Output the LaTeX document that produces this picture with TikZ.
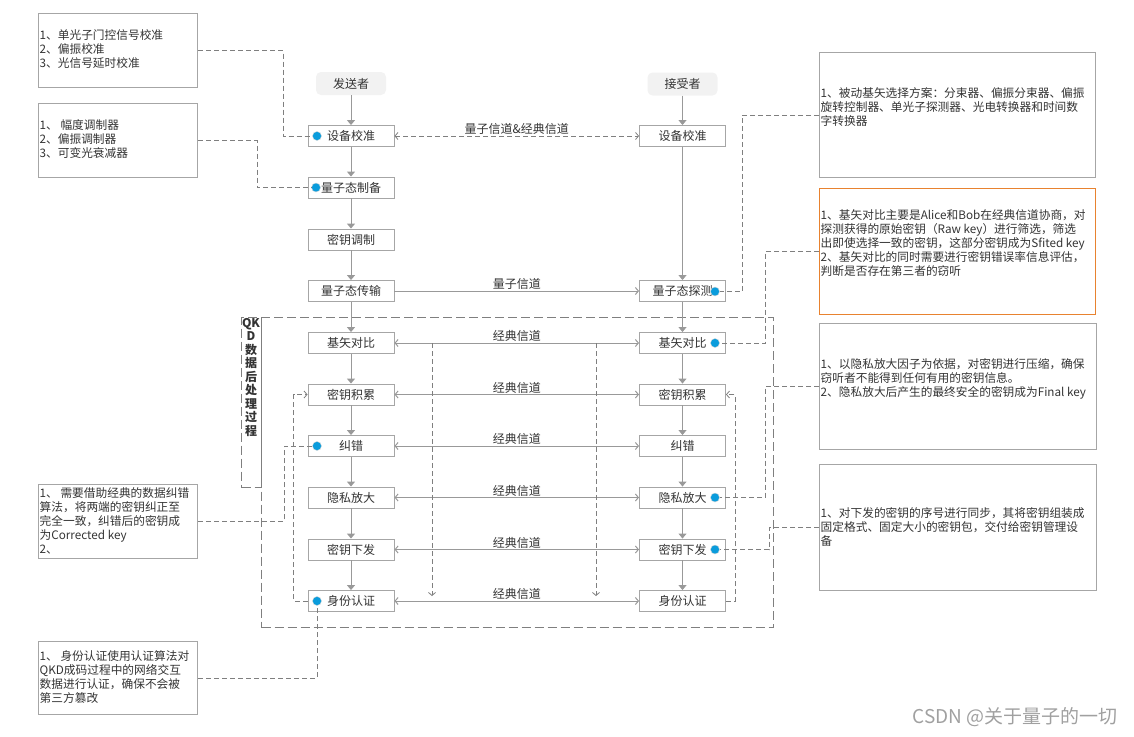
\documentclass[tikz,border=0pt]{standalone}
\usepackage{fontspec}
\setmainfont{Noto Sans CJK SC}
\usepackage{tikz}
\usetikzlibrary{
  arrows.meta,%
  calc,%
  positioning
}
\definecolor{framegray}{HTML}{A6A6A6}
\definecolor{linkgray}{HTML}{999999}
\definecolor{dashgray}{HTML}{7F7F7F}
\definecolor{inkgray}{HTML}{333333}
\definecolor{notehot}{HTML}{E8822F}
\definecolor{dotblue}{HTML}{0A9CDC}
\definecolor{rolefill}{HTML}{F2F2F2}
\definecolor{markgray}{HTML}{A0A0A0}
\tikzset{>={Triangle[width=8pt,length=5pt]}}
\tikzset{chev/.tip={Straight Barb[length=3pt,width=7pt]}}
\tikzset{font=\fontsize{12}{14}\selectfont, text=inkgray}
\tikzset{procbox/.style={draw=framegray, fill=white, line width=0.9pt,
    minimum width=86, minimum height=21, inner sep=0pt},
  rolebox/.style={fill=rolefill, rounded corners=5pt,
    minimum width=70, minimum height=23, inner sep=0pt},
  notebox/.style={draw=framegray, line width=1pt, anchor=north west},
  notetext/.style={anchor=west, align=left, inner sep=0pt,
    font=\fontsize{11.7}{14}\selectfont},
  flow/.style={->, draw=linkgray, line width=1pt},
  chan/.style={chev-chev, draw=linkgray, line width=1pt},
  chanlabel/.style={above, inner sep=1pt},
  dashlink/.style={draw=dashgray, line width=0.8pt, dash pattern=on 5pt off 3pt},
  bigdash/.style={draw=dashgray, line width=1pt, dash pattern=on 9pt off 4pt},
  bluedot/.style={circle, fill=dotblue, draw=white!85!black, line width=0.4pt,
    inner sep=0pt, minimum size=9pt}}

\begin{document}
\begin{tikzpicture}[x=1pt, y=-1pt]
  \useasboundingbox (0,0) rectangle (1134,736);

  % post-processing frame
  \node[bigdash, minimum width=512, minimum height=310, anchor=north west] (post) at (261,317) {};
  \node[bigdash, minimum width=20, minimum height=170, anchor=north west] (postlabel) at (241,317) {};
  \node[anchor=north, align=center, inner sep=0pt, font=\fontsize{12}{13.5}\selectfont\bfseries] (posttitle) at (251,318)
    {QK\\D\\数\\据\\后\\处\\理\\过\\程};

  % roles
  \node[rolebox] (sender) at (351,83.5) {发送者};
  \node[rolebox] (receiver) at (682.5,84) {接受者};

  % sender side
  \node[procbox] (s-calib) at (351,136) {设备校准};
  \node[procbox] (s-prep) at (351,187.5) {量子态制备};
  \node[procbox] (s-mod) at (351,239.5) {密钥调制};
  \node[procbox] (s-send) at (351,291) {量子态传输};
  \node[procbox] (s-sift) at (351,343) {基矢对比};
  \node[procbox] (s-acc) at (351,394.5) {密钥积累};
  \node[procbox] (s-ec) at (351,446) {纠错};
  \node[procbox] (s-pa) at (351,497.5) {隐私放大};
  \node[procbox] (s-dist) at (351,549.5) {密钥下发};
  \node[procbox] (s-auth) at (351,601) {身份认证};

  % receiver side
  \node[procbox] (r-calib) at (682.5,136) {设备校准};
  \node[procbox] (r-det) at (682.5,291) {量子态探测};
  \node[procbox] (r-sift) at (682.5,343) {基矢对比};
  \node[procbox] (r-acc) at (682.5,394.5) {密钥积累};
  \node[procbox] (r-ec) at (682.5,446) {纠错};
  \node[procbox] (r-pa) at (682.5,497.5) {隐私放大};
  \node[procbox] (r-dist) at (682.5,549.5) {密钥下发};
  \node[procbox] (r-auth) at (682.5,601) {身份认证};

  \draw[flow] (sender) -- (s-calib);
  \draw[flow] (s-calib) -- (s-prep);
  \draw[flow] (s-prep) -- (s-mod);
  \draw[flow] (s-mod) -- (s-send);
  \draw[flow] (s-send) -- (s-sift);
  \draw[flow] (s-sift) -- (s-acc);
  \draw[flow] (s-acc) -- (s-ec);
  \draw[flow] (s-ec) -- (s-pa);
  \draw[flow] (s-pa) -- (s-dist);
  \draw[flow] (s-dist) -- (s-auth);

  \draw[flow] (receiver) -- (r-calib);
  \draw[flow] (r-calib) -- (r-det);
  \draw[flow] (r-det) -- (r-sift);
  \draw[flow] (r-sift) -- (r-acc);
  \draw[flow] (r-acc) -- (r-ec);
  \draw[flow] (r-ec) -- (r-pa);
  \draw[flow] (r-pa) -- (r-dist);
  \draw[flow] (r-dist) -- (r-auth);

  % channels
  \draw[chan, dashlink] (s-calib) -- node[chanlabel] {量子信道\&经典信道} (r-calib);
  \draw[-chev, draw=linkgray, line width=1pt] (s-send) -- node[chanlabel] {量子信道} (r-det);
  \draw[chan] (s-sift) -- node[chanlabel] {经典信道} (r-sift);
  \draw[chan] (s-acc) -- node[chanlabel] {经典信道} (r-acc);
  \draw[chan] (s-ec) -- node[chanlabel] {经典信道} (r-ec);
  \draw[chan] (s-pa) -- node[chanlabel] {经典信道} (r-pa);
  \draw[chan] (s-dist) -- node[chanlabel] {经典信道} (r-dist);
  \draw[chan] (s-auth) -- node[chanlabel] {经典信道} (r-auth);

  \coordinate (drop-l) at (432,596);
  \coordinate (drop-r) at (596,596);
  \draw[dashlink, -chev] (s-sift -| drop-l) -- (drop-l);
  \draw[dashlink, -chev] (s-sift -| drop-r) -- (drop-r);
  \draw[dashlink, -chev] (s-auth.west) -- ++(-14,0) |- (s-acc.west);
  \draw[dashlink, -chev] (r-auth.east) -- ++(9,0) |- (r-acc.east);

  % notes, left
  \node[notebox, minimum width=159, minimum height=74] (n-calib) at (38,13) {};
  \node[notetext] (t-calib) at (39.5,49.5) {1、单光子门控信号校准\\2、偏振校准\\3、光信号延时校准};
  \node[notebox, minimum width=159, minimum height=74] (n-prep) at (38,103) {};
  \node[notetext] (t-prep) at (39.5,139.5) {1、 幅度调制器\\2、偏振调制器\\3、可变光衰减器};
  \node[notebox, minimum width=159, minimum height=73.5] (n-ec) at (38,484) {};
  \node[notetext] (t-ec) at (39.5,521) {1、 需要借助经典的数据纠错\\算法，将两端的密钥纠正至\\完全一致，纠错后的密钥成\\为Corrected key\\2、};
  \node[notebox, minimum width=159, minimum height=73] (n-auth) at (38,641) {};
  \node[notetext] (t-auth) at (39.5,677) {1、 身份认证使用认证算法对\\QKD成码过程中的网络交互\\数据进行认证，确保不会被\\第三方篡改};

  % notes, right
  \node[notebox, minimum width=276, minimum height=125] (n-det) at (819,52) {};
  \node[notetext] (t-det) at (820.5,107.5) {1、被动基矢选择方案：分束器、偏振分束器、偏振\\旋转控制器、单光子探测器、光电转换器和时间数\\字转换器};
  \node[notebox, draw=notehot, minimum width=276, minimum height=126] (n-sift) at (819,188) {};
  \node[notetext] (t-sift) at (820.5,243) {1、基矢对比主要是Alice和Bob在经典信道协商，对\\探测获得的原始密钥（Raw key）进行筛选，筛选\\出即使选择一致的密钥，这部分密钥成为Sfited key\\2、基矢对比的同时需要进行密钥错误率信息评估，\\判断是否存在第三者的窃听};
  \node[notebox, minimum width=277, minimum height=126] (n-pa) at (819,323) {};
  \node[notetext] (t-pa) at (820.5,378.5) {1、以隐私放大因子为依据，对密钥进行压缩，确保\\窃听者不能得到任何有用的密钥信息。\\2、隐私放大后产生的最终安全的密钥成为Final key};
  \node[notebox, minimum width=277, minimum height=126] (n-dist) at (819,464) {};
  \node[notetext] (t-dist) at (820.5,526.5) {1、对下发的密钥的序号进行同步，其将密钥组装成\\固定格式、固定大小的密钥包，交付给密钥管理设\\备};

  % blue markers
  \node[bluedot] (d-scalib) at (317,136) {};
  \node[bluedot] (d-sprep) at (316,187.5) {};
  \node[bluedot] (d-rdet) at (715,291.5) {};
  \node[bluedot] (d-rsift) at (715,343) {};
  \node[bluedot] (d-sec) at (317,446) {};
  \node[bluedot] (d-rpa) at (715,497.5) {};
  \node[bluedot] (d-rdist) at (715,549.5) {};
  \node[bluedot] (d-sauth) at (317,601) {};

  \draw[dashlink] (n-calib.east) -- ++(85,0) |- (d-scalib);
  \draw[dashlink] (n-prep.east) -- ++(59,0) |- (d-sprep);
  \draw[dashlink] (n-ec.east) -- ++(86,0) |- (d-sec);
  \draw[dashlink] (n-auth.east) -| (d-sauth);
  \draw[dashlink] (n-det.west) -- ++(-77,0) |- (d-rdet);
  \draw[dashlink] (n-sift.west) -- ++(-54,0) |- (d-rsift);
  \draw[dashlink] (n-pa.west) -- ++(-54,0) |- (d-rpa);
  \draw[dashlink] (n-dist.west) -- ++(-50,0) |- (d-rdist);

  \node[anchor=east, text=markgray, font=\fontsize{19}{21}\selectfont] (mark) at (1121,717) {CSDN @关于量子的一切};
\end{tikzpicture}
\end{document}
